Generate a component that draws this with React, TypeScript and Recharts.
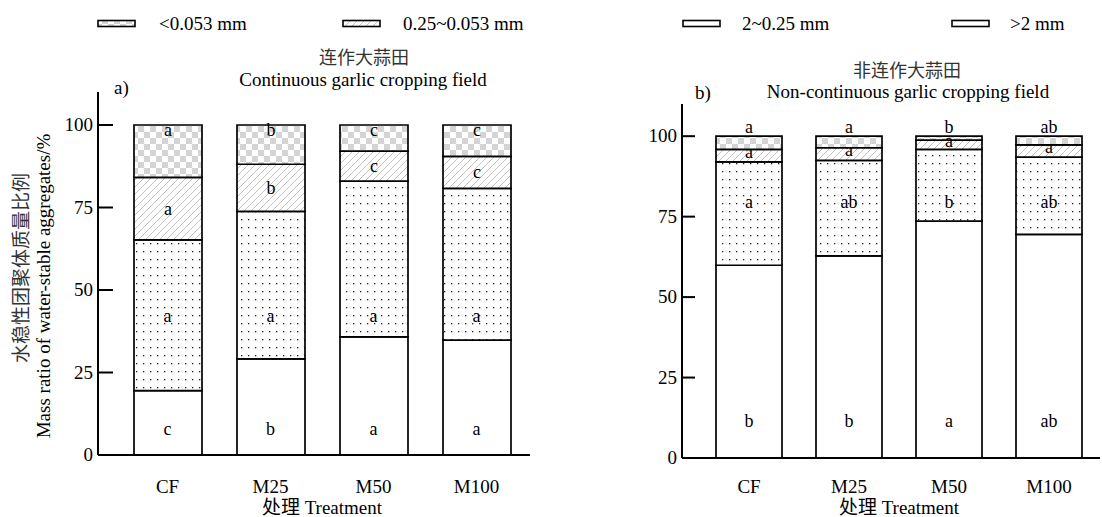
import { BarChart, Bar, XAxis, YAxis, LabelList, ReferenceDot } from 'recharts'

const FONT = "'Liberation Serif', 'Times New Roman', 'Noto Sans CJK SC', serif"

const treatments = ['CF', 'M25', 'M50', 'M100']
const sizeClasses = ['<0.053 mm', '0.25~0.053 mm', '2~0.25 mm', '>2 mm']
const yTicks = [0, 25, 50, 75, 100]

// a) continuous garlic cropping field, % of water-stable aggregates
const contGt2 = [19.5, 29.1, 35.8, 34.8]
const cont2to025 = [45.7, 44.7, 47.2, 46.0]
const cont025to0053 = [18.9, 14.3, 9.1, 9.7]
const contLt0053 = [15.9, 11.9, 7.9, 9.5]

// b) non-continuous garlic cropping field
const nonGt2 = [59.9, 62.8, 73.6, 69.5]
const non2to025 = [32.1, 29.7, 22.3, 24.0]
const non025to0053 = [3.9, 3.9, 2.9, 3.8]
const nonLt0053 = [4.1, 3.6, 1.2, 2.7]

// significance letters
const contLetGt2 = ['c', 'b', 'a', 'a']
const contLet2to025 = ['a', 'a', 'a', 'a']
const contLet025to0053 = ['a', 'b', 'c', 'c']
const contLetLt0053 = ['a', 'b', 'c', 'c']

const nonLetGt2 = ['b', 'b', 'a', 'ab']
const nonLet2to025 = ['a', 'ab', 'b', 'ab']
const nonLet025to0053 = ['a', 'a', 'a', 'a']
const nonLetLt0053 = ['a', 'a', 'b', 'ab']

const FILLS = ['url(#pat-checker)', 'url(#pat-hatch)', 'url(#pat-dots)', '#ffffff']

const buildRows = (gt2: number[], mid: number[], fine: number[], lt: number[]) =>
  treatments.map((t, i) => ({ t, gt2: gt2[i], mid: mid[i], fine: fine[i], lt: lt[i] }))

type Box = { x: number; y: number; width: number; height: number }

const segLabel = (letters: string[], place: (b: Box) => number) => (props: any) => {
  const b: Box = props.viewBox && props.viewBox.width != null ? props.viewBox : props
  if (b.x == null) return null
  return (
    <text
      x={b.x + b.width / 2}
      y={place(b)}
      textAnchor="middle"
      fontSize={18}
      fontFamily={FONT}
      fill="#000"
    >
      {letters[props.index]}
    </text>
  )
}

const fixedLabel = (letter: string) => (props: any) => {
  const vb = props.viewBox
  if (!vb) return null
  return (
    <text x={vb.x} y={vb.y + 5} textAnchor="middle" fontSize={18} fontFamily={FONT} fill="#000">
      {letter}
    </text>
  )
}

function Patterns() {
  return (
    <svg width={0} height={0} style={{ position: 'absolute' }}>
      <defs>
        <pattern id="pat-checker" width={12} height={12} patternUnits="userSpaceOnUse">
          <rect width={12} height={12} fill="#fff" />
          <rect width={6} height={6} fill="#d4d4d4" />
          <rect x={6} y={6} width={6} height={6} fill="#d4d4d4" />
        </pattern>
        <pattern id="pat-hatch" width={7} height={7} patternUnits="userSpaceOnUse">
          <rect width={7} height={7} fill="#fff" />
          <path d="M0,7 L7,0 M-1,1 L1,-1 M6,8 L8,6" stroke="#b0b0b0" strokeWidth={0.8} />
        </pattern>
        <pattern id="pat-dots" width={7} height={8} patternUnits="userSpaceOnUse">
          <rect width={7} height={8} fill="#fff" />
          <rect x={3} y={3} width={1.3} height={1.3} fill="#222" />
        </pattern>
      </defs>
    </svg>
  )
}

type PanelProps = {
  rows: ReturnType<typeof buildRows>
  letters: { gt2: string[]; mid: string[]; fine: string[]; lt: string[] }
  width: number
  marginTop: number
  yAxisWidth: number
  axisHeight: number
  marginRight: number
  padLeft: number
  padRight: number
  barSize: number
  tickLen: number
  xTickDy: number
  midY: number
  lowY: number
  fineDy: number
  ltPlace: (b: Box) => number
  yTitle?: boolean
}

function Panel(p: PanelProps) {
  return (
    <BarChart
      width={p.width}
      height={517}
      data={p.rows}
      margin={{ top: p.marginTop, right: p.marginRight, bottom: 0, left: 0 }}
      barSize={p.barSize}
    >
      <XAxis
        dataKey="t"
        type="category"
        height={p.axisHeight}
        padding={{ left: p.padLeft, right: p.padRight }}
        axisLine={{ stroke: '#000', strokeWidth: 2 }}
        tickLine={false}
        tickSize={0}
        tickMargin={0}
        tick={(t: any) => (
          <text x={t.x} y={t.y + p.xTickDy} textAnchor="middle" fontSize={19} fontFamily={FONT} fill="#000">
            {t.payload.value}
          </text>
        )}
        label={{
          content: (l: any) => {
            const vb = l.viewBox
            const cx = vb.x + p.padLeft + (vb.width - p.padLeft - p.padRight) / 2
            return (
              <text x={cx} y={vb.y + p.axisHeight - 3} textAnchor="middle" fontSize={19} fontFamily={FONT} fill="#000">
                处理 Treatment
              </text>
            )
          },
        }}
      />
      <YAxis
        type="number"
        domain={[0, 110]}
        ticks={yTicks}
        width={p.yAxisWidth}
        axisLine={{ stroke: '#000', strokeWidth: 2 }}
        tickLine={false}
        tickSize={0}
        tickMargin={0}
        tick={(t: any) => (
          <g>
            <line x1={t.x} x2={t.x + p.tickLen} y1={t.y} y2={t.y} stroke="#000" strokeWidth={2} />
            <text x={t.x - 5} y={t.y + 6} textAnchor="end" fontSize={19} fontFamily={FONT} fill="#000">
              {t.payload.value}
            </text>
          </g>
        )}
        label={
          p.yTitle
            ? {
                content: () => (
                  <g fontFamily={FONT}>
                    <text x={28} y={268} transform="rotate(-90 28 268)" textAnchor="middle" fontSize={19} fill="#333">
                      水稳性团聚体质量比例
                    </text>
                    <text x={50} y={286} transform="rotate(-90 50 286)" textAnchor="middle" fontSize={19} fill="#000">
                      Mass ratio of water-stable aggregates/%
                    </text>
                  </g>
                ),
              }
            : undefined
        }
      />
      <Bar dataKey="gt2" stackId="s" fill={FILLS[3]} stroke="#000" strokeWidth={1.7} isAnimationActive={false} />
      <Bar dataKey="mid" stackId="s" fill={FILLS[2]} stroke="#000" strokeWidth={1.7} isAnimationActive={false} />
      <Bar dataKey="fine" stackId="s" fill={FILLS[1]} stroke="#000" strokeWidth={1.7} isAnimationActive={false}>
        <LabelList dataKey="fine" content={segLabel(p.letters.fine, (b) => b.y + b.height / 2 + p.fineDy)} />
      </Bar>
      <Bar dataKey="lt" stackId="s" fill={FILLS[0]} stroke="#000" strokeWidth={1.7} isAnimationActive={false}>
        <LabelList dataKey="lt" content={segLabel(p.letters.lt, p.ltPlace)} />
      </Bar>
      {treatments.map((t, i) => (
        <ReferenceDot
          key={'m' + t}
          x={t}
          y={p.midY}
          r={0}
          fill="none"
          stroke="none"
          label={{ content: fixedLabel(p.letters.mid[i]) }}
        />
      ))}
      {treatments.map((t, i) => (
        <ReferenceDot
          key={'g' + t}
          x={t}
          y={p.lowY}
          r={0}
          fill="none"
          stroke="none"
          label={{ content: fixedLabel(p.letters.gt2[i]) }}
        />
      ))}
    </BarChart>
  )
}

const LEGEND_X = [98, 343, 683, 952]
const LEGEND_TEXT_X = [159, 403, 742, 1010]

export default function App() {
  return (
    <div style={{ position: 'absolute', left: 0, top: 0, width: 1102, height: 517, background: '#fff' }}>
      <Patterns />
      <div style={{ position: 'absolute', left: 0, top: 0 }}>
        <Panel
          rows={buildRows(contGt2, cont2to025, cont025to0053, contLt0053)}
          letters={{ gt2: contLetGt2, mid: contLet2to025, fine: contLet025to0053, lt: contLetLt0053 }}
          width={540}
          marginTop={92}
          yAxisWidth={98}
          axisHeight={62}
          marginRight={10}
          padLeft={18}
          padRight={2}
          barSize={68}
          tickLen={15}
          xTickDy={38}
          midY={41.8}
          lowY={7.6}
          fineDy={6}
          ltPlace={(b) => b.y + 11}
          yTitle
        />
      </div>
      <div style={{ position: 'absolute', left: 600, top: 0 }}>
        <Panel
          rows={buildRows(nonGt2, non2to025, non025to0053, nonLt0053)}
          letters={{ gt2: nonLetGt2, mid: nonLet2to025, fine: nonLet025to0053, lt: nonLetLt0053 }}
          width={502}
          marginTop={104}
          yAxisWidth={82}
          axisHeight={59}
          marginRight={2}
          padLeft={17}
          padRight={1}
          barSize={66}
          tickLen={13}
          xTickDy={35}
          midY={79.2}
          lowY={11.2}
          fineDy={2}
          ltPlace={(b) => b.y - 3}
        />
      </div>
      <svg
        width={1102}
        height={517}
        style={{ position: 'absolute', left: 0, top: 0, pointerEvents: 'none' }}
        fontFamily={FONT}
      >
        {sizeClasses.map((s, i) => (
          <g key={s}>
            <rect x={LEGEND_X[i]} y={20.5} width={37} height={6} fill={FILLS[i]} stroke="#000" strokeWidth={1.6} />
            <text x={LEGEND_TEXT_X[i]} y={30} fontSize={19} fill="#000">
              {s}
            </text>
          </g>
        ))}
        <text x={364} y={64} textAnchor="middle" fontSize={18} fill="#333">
          连作大蒜田
        </text>
        <text x={363} y={86} textAnchor="middle" fontSize={19} fill="#000">
          Continuous garlic cropping field
        </text>
        <text x={114} y={94} fontSize={19} fill="#000">
          a)
        </text>
        <text x={907} y={77} textAnchor="middle" fontSize={18} fill="#333">
          非连作大蒜田
        </text>
        <text x={908} y={98} textAnchor="middle" fontSize={19} fill="#000">
          Non-continuous garlic cropping field
        </text>
        <text x={695} y={99} fontSize={19} fill="#000">
          b)
        </text>
      </svg>
    </div>
  )
}
